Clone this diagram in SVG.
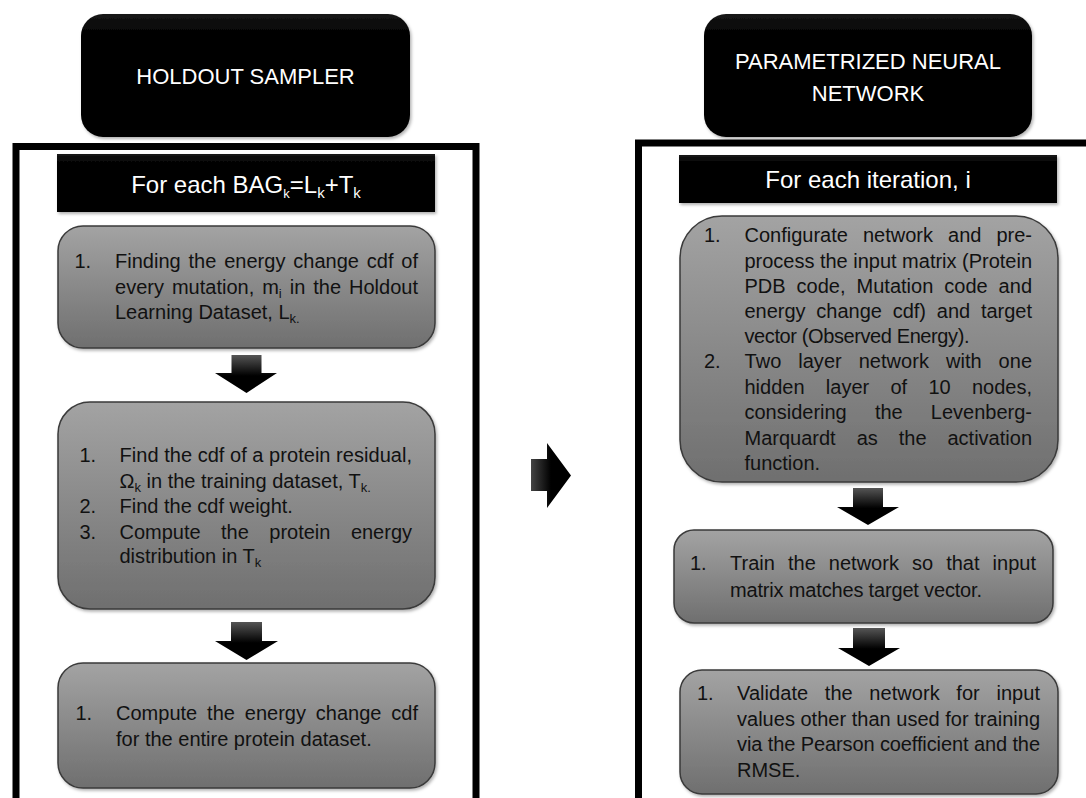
<svg xmlns="http://www.w3.org/2000/svg" width="1086" height="798" viewBox="0 0 1086 798">
<defs>
  <linearGradient id="gGray" x1="0" y1="0" x2="0" y2="1">
    <stop offset="0" stop-color="#a3a3a3"/>
    <stop offset="1" stop-color="#6f6f6f"/>
  </linearGradient>
  <linearGradient id="gBlack" x1="0" y1="0" x2="0" y2="1">
    <stop offset="0" stop-color="#161616"/>
    <stop offset="0.18" stop-color="#000"/>
    <stop offset="1" stop-color="#000"/>
  </linearGradient>
  <linearGradient id="gArrow" x1="0" y1="0" x2="0" y2="1">
    <stop offset="0" stop-color="#555"/>
    <stop offset="0.55" stop-color="#000"/>
    <stop offset="1" stop-color="#000"/>
  </linearGradient>
  <linearGradient id="gArrowH" x1="0" y1="0" x2="1" y2="0">
    <stop offset="0" stop-color="#444"/>
    <stop offset="0.5" stop-color="#000"/>
    <stop offset="1" stop-color="#000"/>
  </linearGradient>
  <filter id="sh" x="-10%" y="-10%" width="125%" height="130%">
    <feDropShadow dx="1.5" dy="2" stdDeviation="1.8" flood-color="#000" flood-opacity="0.3"/>
  </filter>
</defs>
<style>
  .frame{fill:none;stroke:#000;stroke-width:7}
  .hdr{fill:url(#gBlack);filter:url(#sh)}
  .step{fill:url(#gGray);stroke:#3a3a3a;stroke-width:1.5;filter:url(#sh)}
  .t{font-family:"Liberation Sans",Arial,sans-serif;font-size:20px;fill:#111}
  .w{font-family:"Liberation Sans",Arial,sans-serif;fill:#fff;text-anchor:middle}
  .arrow{fill:url(#gArrow)}
  .arrowH{fill:url(#gArrowH)}
  .sub{font-size:13px}
</style>

<!-- frames -->
<g id="frames">
  <rect class="frame" x="16" y="146.5" width="460" height="700"/>
  <rect class="frame" x="638.5" y="143" width="500" height="700"/>
</g>

<!-- LEFT COLUMN -->
<g id="holdout-sampler">
  <rect class="hdr" x="81" y="14" width="329" height="123" rx="22" ry="22"/>
  <text class="w" x="245.5" y="84" font-size="22">HOLDOUT SAMPLER</text>
</g>

<g id="for-each-bag">
  <rect class="hdr" x="57" y="154" width="378" height="58"/>
  <text class="w" x="246" y="193" font-size="24">For each BAG<tspan class="sub" font-size="15" dy="5">k</tspan><tspan dy="-5">=L</tspan><tspan font-size="15" dy="5">k</tspan><tspan dy="-5">+T</tspan><tspan font-size="15" dy="5">k</tspan></text>
</g>

<g id="left-step1">
  <rect class="step" x="58" y="226" width="377" height="122" rx="25" ry="25"/>
  <text class="t" x="74.5" y="268">1.</text>
  <text class="t" x="115" y="268" textLength="303" lengthAdjust="spacing" word-spacing="2.3">Finding the energy change cdf of</text>
  <text class="t" x="115" y="294" textLength="303" lengthAdjust="spacing" word-spacing="2.4">every mutation, m<tspan class="sub" dy="4">i</tspan><tspan dy="-4"> in the Holdout</tspan></text>
  <text class="t" x="115" y="319">Learning Dataset, L<tspan class="sub" dy="4">k.</tspan></text>
</g>

<g id="left-step2">
  <rect class="step" x="58" y="402" width="377" height="207" rx="32" ry="32"/>
  <text class="t" x="79.5" y="462">1.</text>
  <text class="t" x="119.5" y="462" textLength="292.5" lengthAdjust="spacing">Find the cdf of a protein residual,</text>
  <text class="t" x="119.5" y="488">Ω<tspan class="sub" dy="4">k</tspan><tspan dy="-4"> in the training dataset, T</tspan><tspan class="sub" dy="4">k.</tspan></text>
  <text class="t" x="79.5" y="513">2.</text>
  <text class="t" x="119.5" y="513">Find the cdf weight.</text>
  <text class="t" x="79.5" y="539">3.</text>
  <text class="t" x="119.5" y="539" textLength="292.5" lengthAdjust="spacing" word-spacing="14.9">Compute the protein energy</text>
  <text class="t" x="119.5" y="563">distribution in T<tspan class="sub" dy="4">k</tspan></text>
</g>

<g id="left-step3">
  <rect class="step" x="58" y="663" width="377" height="125" rx="25" ry="25"/>
  <text class="t" x="75.5" y="720">1.</text>
  <text class="t" x="116" y="720" textLength="302" lengthAdjust="spacing" word-spacing="4.3">Compute the energy change cdf</text>
  <text class="t" x="116" y="746">for the entire protein dataset.</text>
</g>

<!-- RIGHT COLUMN -->
<g id="parametrized-nn">
  <rect class="hdr" x="704" y="14" width="328" height="123" rx="22" ry="22"/>
  <text class="w" x="868" y="69" font-size="22">PARAMETRIZED NEURAL</text>
  <text class="w" x="868" y="101" font-size="22">NETWORK</text>
</g>

<g id="for-each-iteration">
  <rect class="hdr" x="679" y="155" width="378" height="48"/>
  <text class="w" x="868" y="188" font-size="24">For each iteration, i</text>
</g>

<g id="right-step1">
  <rect class="step" x="680" y="216" width="378" height="266" rx="42" ry="42"/>
  <text class="t" x="704" y="242">1.</text>
  <text class="t" x="744.5" y="242" textLength="287.5" lengthAdjust="spacing" word-spacing="9.5">Configurate network and pre-</text>
  <text class="t" x="744.5" y="268" textLength="287.5" lengthAdjust="spacing">process the input matrix (Protein</text>
  <text class="t" x="744.5" y="293" textLength="287.5" lengthAdjust="spacing" word-spacing="5.4">PDB code, Mutation code and</text>
  <text class="t" x="744.5" y="318" textLength="287.5" lengthAdjust="spacing" word-spacing="5.2">energy change cdf) and target</text>
  <text class="t" x="744.5" y="343" textLength="225" lengthAdjust="spacing">vector (Observed Energy).</text>
  <text class="t" x="704" y="368">2.</text>
  <text class="t" x="744.5" y="368" textLength="287.5" lengthAdjust="spacing" word-spacing="11.3">Two layer network with one</text>
  <text class="t" x="744.5" y="394" textLength="287.5" lengthAdjust="spacing" word-spacing="15.7">hidden layer of 10 nodes,</text>
  <text class="t" x="744.5" y="419" textLength="287.5" lengthAdjust="spacing" word-spacing="22.6">considering the Levenberg-</text>
  <text class="t" x="744.5" y="445" textLength="287.5" lengthAdjust="spacing" word-spacing="15.4">Marquardt as the activation</text>
  <text class="t" x="744.5" y="470">function.</text>
</g>

<g id="right-step2">
  <rect class="step" x="674" y="530" width="379" height="93" rx="20" ry="20"/>
  <text class="t" x="690" y="570">1.</text>
  <text class="t" x="730" y="570" textLength="306" lengthAdjust="spacing" word-spacing="7.5">Train the network so that input</text>
  <text class="t" x="730" y="597" textLength="252" lengthAdjust="spacing">matrix matches target vector.</text>
</g>

<g id="right-step3">
  <rect class="step" x="680" y="670" width="378" height="124" rx="22" ry="22"/>
  <text class="t" x="697" y="700">1.</text>
  <text class="t" x="737" y="700" textLength="303" lengthAdjust="spacing" word-spacing="11">Validate the network for input</text>
  <text class="t" x="737" y="726" textLength="303" lengthAdjust="spacing">values other than used for training</text>
  <text class="t" x="737" y="751" textLength="303" lengthAdjust="spacing">via the Pearson coefficient and the</text>
  <text class="t" x="737" y="777">RMSE.</text>
</g>

<!-- connectors -->
<g id="connectors">
  <polygon class="arrow" points="231.5,355 261.5,355 261.5,373 277,373 246.5,393 215,373 231.5,373"/>
  <polygon class="arrow" points="231,622 262,622 262,641 278,641 246.5,660 215,641 231,641"/>
  <polygon class="arrowH" points="531,459 547,459 547,443 571,475.5 547,508 547,491 531,491"/>
  <polygon class="arrow" points="853,488 883,488 883,507 899,507 868,525 837,507 853,507"/>
  <polygon class="arrow" points="853,628 885,628 885,648 900,648 869,666 838,648 853,648"/>
</g>
</svg>
